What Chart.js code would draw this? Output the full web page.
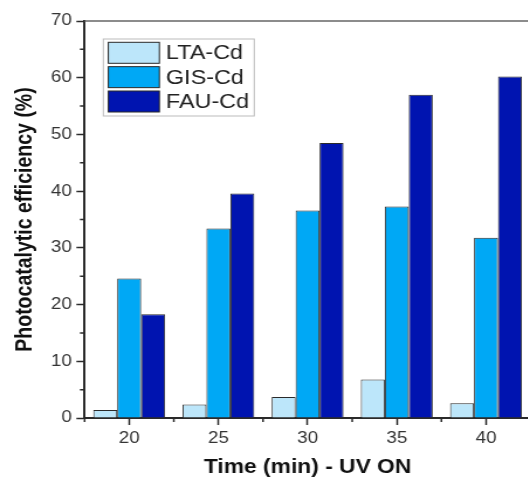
<!DOCTYPE html>
<html>
<head>
<meta charset="utf-8">
<script src="https://cdn.jsdelivr.net/npm/chart.js@4/dist/chart.umd.min.js"></script>
<style>
  html, body { margin: 0; padding: 0; width: 528px; height: 477px; overflow: hidden; background: #fff; }
  /* the source figure is stretched sideways, so the whole chart is too */
  #wrap { width: 456px; height: 477px; transform: scaleX(1.17); transform-origin: 0 0; }
</style>
</head>
<body>
<div id="wrap"><canvas id="chart"></canvas></div>
<script>
const times = ["20", "25", "30", "35", "40"];
const ltaCd = [1.4, 2.4, 3.7, 6.8, 2.6];
const gisCd = [24.6, 33.4, 36.6, 37.3, 31.8];
const fauCd = [18.3, 39.6, 48.5, 57.0, 60.2];
const yMinorTicks = [5, 15, 25, 35, 45, 55, 65];

const FONT = "'Liberation Sans', Arial, sans-serif";
const AXIS = '#2a2a2a';

// top frame line, minor ticks
const extraTicks = {
  id: 'extraTicks',
  afterDraw(chart) {
    const { ctx, chartArea } = chart;
    const x = chart.scales.x, y = chart.scales.y;
    ctx.save();
    ctx.strokeStyle = '#666';
    ctx.lineWidth = 1.6;
    ctx.beginPath();
    ctx.moveTo(chartArea.left, chartArea.top);
    ctx.lineTo(chartArea.right + 4, chartArea.top);
    ctx.stroke();

    ctx.strokeStyle = AXIS;
    ctx.lineWidth = 1.5;
    ctx.beginPath();
    yMinorTicks.forEach(v => {
      const py = y.getPixelForValue(v);
      ctx.moveTo(chartArea.left - 4, py);
      ctx.lineTo(chartArea.left, py);
    });
    for (let i = 0; i <= times.length; i++) {
      let px;
      if (i === 0) px = chartArea.left;
      else if (i === times.length) px = chartArea.right;
      else px = (x.getPixelForValue(i - 1) + x.getPixelForValue(i)) / 2;
      ctx.moveTo(px, chartArea.bottom);
      ctx.lineTo(px, chartArea.bottom + 4);
    }
    ctx.stroke();
    ctx.restore();
  }
};

// legend box inside the plot
const legendBox = {
  id: 'legendBox',
  afterDraw(chart) {
    const { ctx, chartArea } = chart;
    const bx = chartArea.left + 16, by = chartArea.top + 18;
    ctx.save();
    ctx.strokeStyle = '#bbb';
    ctx.lineWidth = 1;
    ctx.fillStyle = '#fff';
    ctx.fillRect(bx, by, 129, 77);
    ctx.strokeRect(bx, by, 129, 77);
    ctx.font = '20px ' + FONT;
    ctx.textBaseline = 'middle';
    chart.data.datasets.forEach((ds, i) => {
      const sy = by + 3.3 + i * 24.35;
      ctx.fillStyle = ds.backgroundColor;
      ctx.fillRect(bx + 4.3, sy, 43.6, 21);
      ctx.strokeStyle = AXIS;
      ctx.strokeRect(bx + 4.3, sy, 43.6, 21);
      ctx.fillStyle = '#222';
      ctx.fillText(ds.label, bx + 53.5, sy + 11.5);
    });
    ctx.restore();
  }
};

new Chart(document.getElementById('chart'), {
  type: 'bar',
  data: {
    labels: times,
    datasets: [
      { label: 'LTA-Cd', data: ltaCd, backgroundColor: '#BCE6FA' },
      { label: 'GIS-Cd', data: gisCd, backgroundColor: '#00A8F5' },
      { label: 'FAU-Cd', data: fauCd, backgroundColor: '#0014B0' },
    ]
  },
  options: {
    responsive: true,
    maintainAspectRatio: false,
    animation: false,
    layout: { padding: { top: 21, right: 2.5, left: 0, bottom: 0 } },
    datasets: {
      bar: { categoryPercentage: 0.806, barPercentage: 1, borderWidth: 1, borderColor: AXIS }
    },
    plugins: { legend: { display: false }, tooltip: { enabled: false } },
    scales: {
      x: {
        afterFit: s => { s.height = 59; },
        grid: { display: true, drawOnChartArea: false, offset: false, tickLength: 7, tickWidth: 1.5, tickColor: AXIS },
        border: { display: true, color: AXIS, width: 2 },
        ticks: { color: '#333', padding: 4, font: { family: FONT, size: 16 } },
        title: { display: true, text: 'Time (min) - UV ON', color: '#111', padding: 0,
                 font: { family: FONT, size: 19.5, weight: 'bold', lineHeight: 1 } }
      },
      y: {
        min: 0, max: 70,
        afterFit: s => { s.width = 72.3; },
        grid: { display: true, drawOnChartArea: false, tickLength: 7, tickWidth: 1.5, tickColor: AXIS },
        border: { display: true, color: AXIS, width: 2 },
        ticks: { stepSize: 10, color: '#333', padding: 4, font: { family: FONT, size: 16 } },
        title: { display: true, text: 'Photocatalytic efficiency (%)', color: '#111', padding: { top: 12 },
                 font: { family: FONT, size: 19.5, weight: 'bold', lineHeight: 1 } }
      }
    }
  },
  plugins: [extraTicks, legendBox]
});
</script>
</body>
</html>
